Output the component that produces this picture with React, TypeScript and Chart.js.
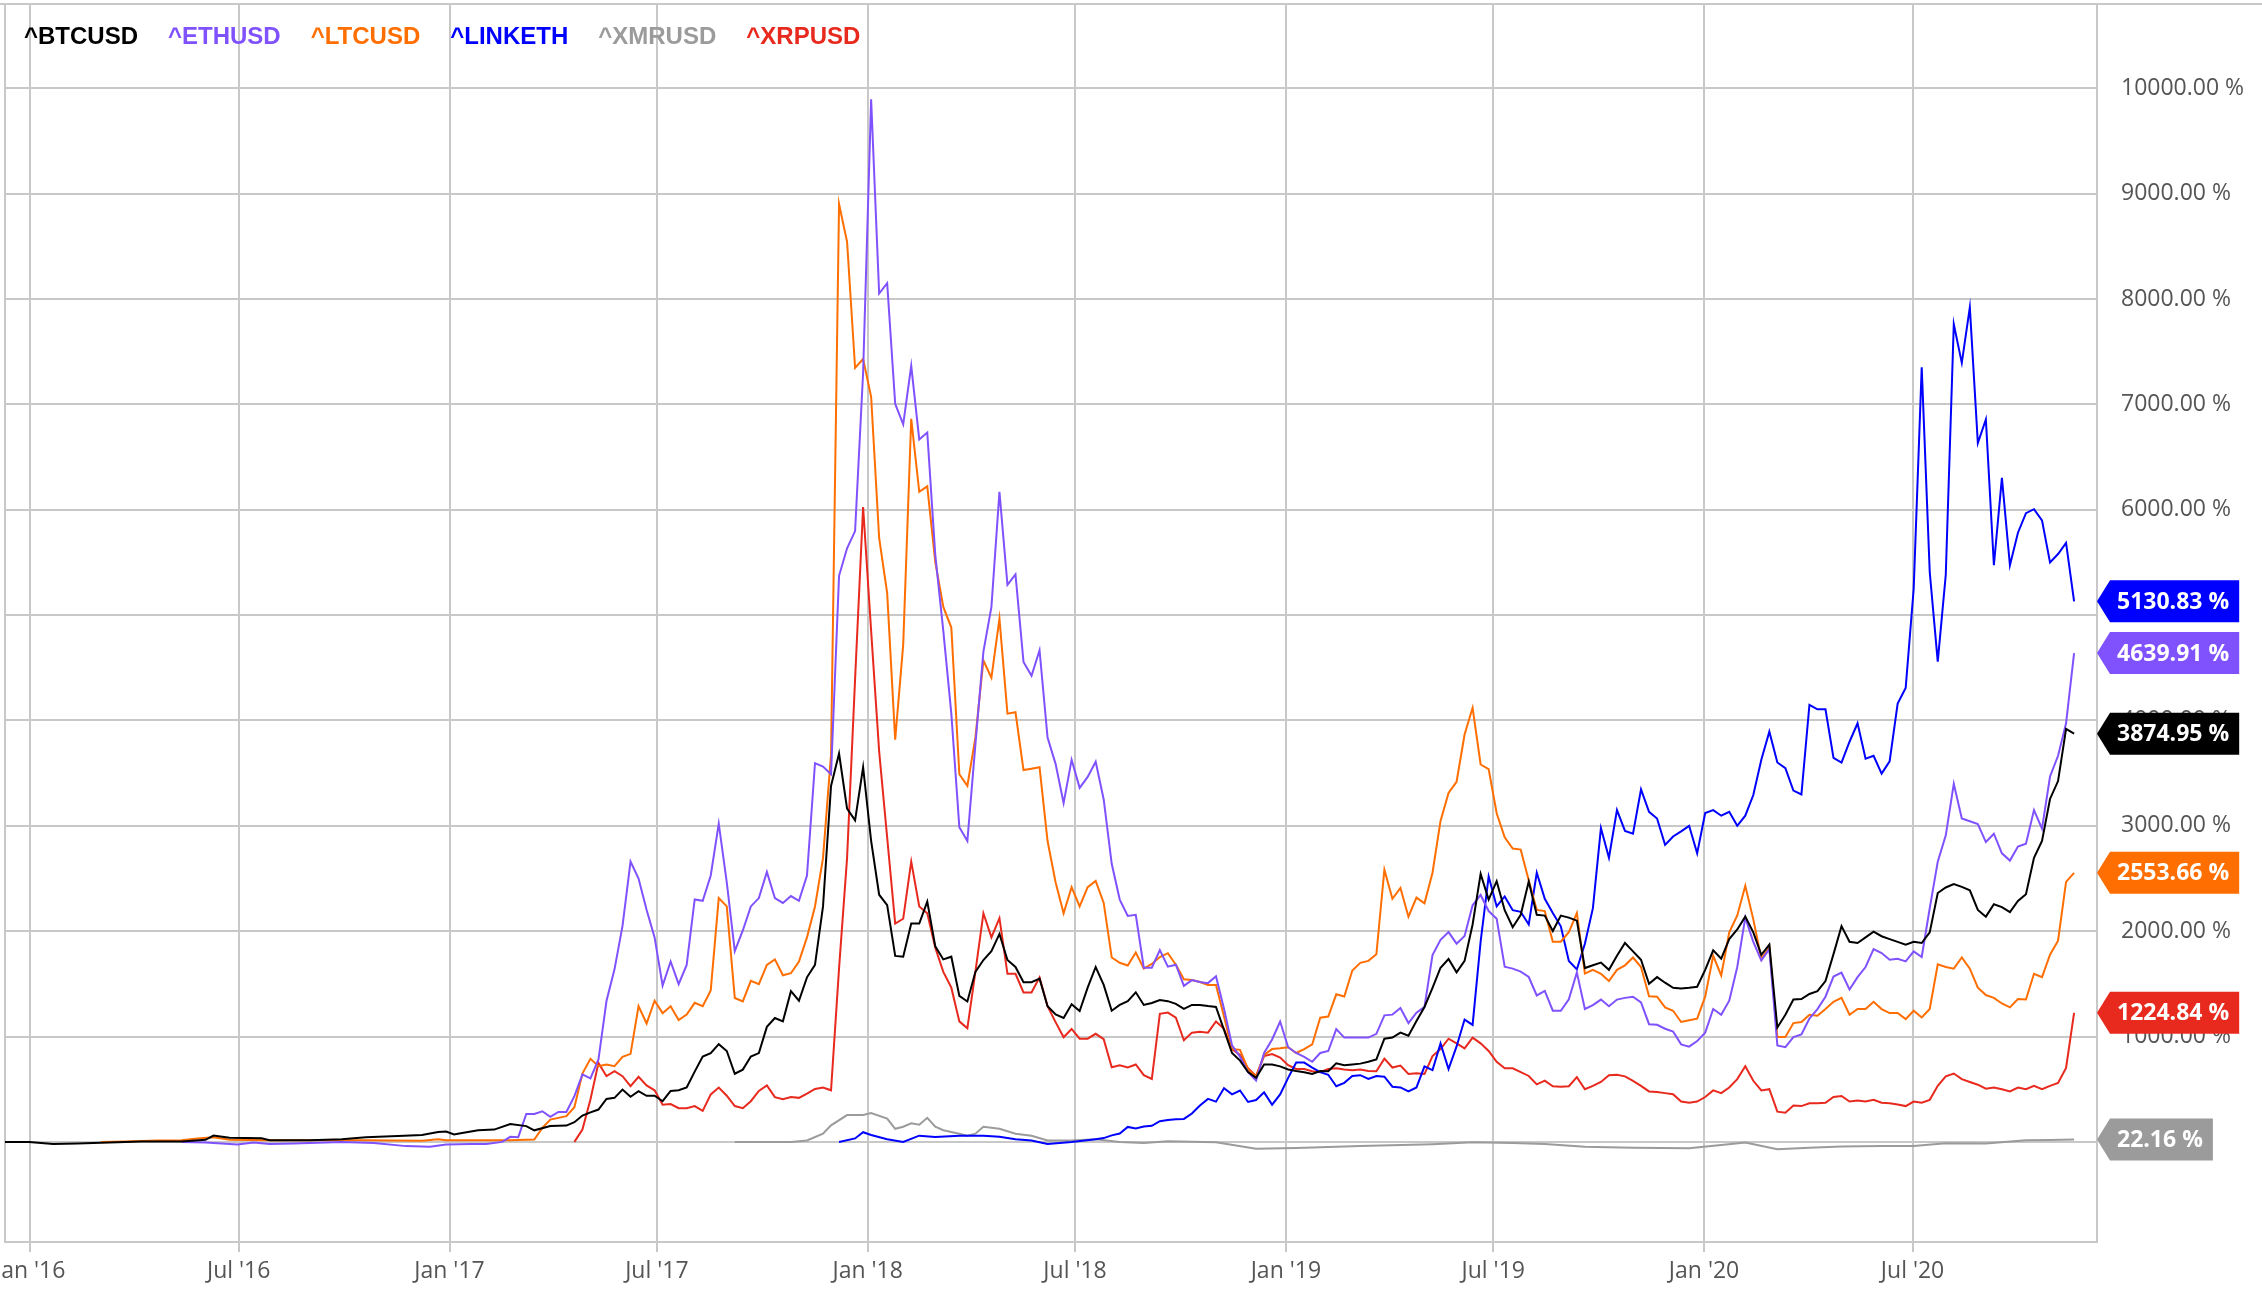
import React, { useEffect, useRef } from "react";
import { Chart, registerables } from "chart.js";

Chart.register(...registerables);

// x axis: days counted from 1 Jan 2016, data is weekly (week 0 = 10 Dec 2015)
const tickDates = [
	"2016-01-01", "2016-07-01", "2017-01-01", "2017-07-01", "2018-01-01",
	"2018-07-01", "2019-01-01", "2019-07-01", "2020-01-01", "2020-07-01",
];
const tickLabels = [
	"Jan '16", "Jul '16", "Jan '17", "Jul '17", "Jan '18",
	"Jul '18", "Jan '19", "Jul '19", "Jan '20", "Jul '20",
];
const yTicks = [0, 1000, 2000, 3000, 4000, 5000, 6000, 7000, 8000, 9000, 10000];

const seriesNames = ["^BTCUSD", "^ETHUSD", "^LTCUSD", "^LINKETH", "^XMRUSD", "^XRPUSD"];

// [week, % change] before the weekly runs start
const btcEarly: [number, number][] = [
	[0, 0], [3, 0], [6, -20], [9, -15], [13, -5], [17, 5], [22, 5], [25, 20], [26, 60],
	[28, 40], [32, 35], [33, 15], [38, 15], [42, 25], [45, 45], [49, 55], [52, 65],
	[54, 95], [55, 98], [56, 70], [57, 85], [59, 110], [61, 117], [63, 170], [65, 150],
	[66, 110], [68, 150], [70, 155], [71, 187], [72, 250], [73, 280], [74, 307],
	[75, 408], [76, 418], [77, 497], [78, 428],
];
// weekly from week 79
const btcWeekly = [
	481, 438, 438, 386, 484, 490, 516, 667, 810, 843,
	928, 863, 647, 686, 810, 843, 1092, 1176, 1144, 1431,
	1340, 1562, 1680, 2235, 3379, 3686, 3163, 3052, 3556, 2856,
	2346, 2248, 1765, 1758, 2072, 2072, 2281, 1856, 1732, 1758,
	1386, 1333, 1614, 1726, 1810, 1974, 1726, 1660, 1516, 1516,
	1549, 1288, 1209, 1176, 1307, 1242, 1464, 1660, 1490, 1245,
	1300, 1336, 1420, 1300, 1318, 1347, 1336, 1310, 1263, 1300,
	1300, 1289, 1281, 1063, 844, 772, 662, 608, 735, 735,
	717, 688, 673, 662, 644, 673, 670, 746, 728, 735,
	743, 761, 783, 979, 990, 1037, 1008, 1147, 1281, 1463,
	1653, 1736, 1609, 1718, 2064, 2544, 2300, 2475, 2199, 2038,
	2155, 2472, 2155, 2148, 2002, 2148, 2129, 2100, 1650, 1676,
	1702, 1633, 1766, 1888, 1808, 1729, 1500, 1564, 1511, 1463,
	1457, 1463, 1473, 1633, 1819, 1739, 1925, 2016, 2138, 1989,
	1776, 1872, 1085, 1207, 1351, 1356, 1404, 1431, 1527, 1782,
	2048, 1899, 1888, 1941, 1995, 1952, 1925, 1899, 1872, 1899,
	1888, 1989, 2362, 2415, 2447, 2420, 2388, 2202, 2138, 2255,
	2229, 2181, 2287, 2351, 2697, 2856, 3255, 3425, 3920, 3874.95,
];

const ethEarly: [number, number][] = [
	[22, 0], [25, -5], [29, -25], [31, -5], [33, -20], [36, -15], [42, 0], [46, -10],
	[50, -40], [53, -47], [55, -25], [58, -20], [60, -20], [62, 0], [63, 48], [64, 45],
	[65, 266], [66, 266], [67, 291], [68, 238], [69, 285], [70, 285], [71, 434],
	[72, 640], [73, 602], [74, 782], [75, 1337], [76, 1638], [77, 2050], [78, 2661],
];
const ethWeekly = [
	2500, 2203, 1941, 1484, 1712, 1497, 1680, 2301, 2288, 2529,
	3020, 2464, 1810, 2007, 2235, 2314, 2562, 2314, 2268, 2333,
	2288, 2529, 3595, 3562, 3490, 5373, 5634, 5797, 7300, 9895,
	8052, 8150, 7006, 6810, 7366, 6667, 6732, 5569, 4850, 4065,
	2987, 2856, 3771, 4654, 5078, 6170, 5288, 5386, 4556, 4425,
	4667, 3837, 3588, 3216, 3627, 3360, 3464, 3608, 3250, 2640,
	2300, 2144, 2155, 1653, 1653, 1820, 1663, 1682, 1481, 1536,
	1518, 1507, 1572, 1263, 917, 808, 662, 582, 844, 972,
	1143, 899, 844, 808, 761, 844, 863, 1070, 990, 990,
	990, 990, 1026, 1201, 1208, 1270, 1128, 1227, 1281, 1773,
	1918, 1991, 1882, 1955, 2246, 2344, 2191, 2118, 1663, 1645,
	1616, 1565, 1390, 1434, 1245, 1245, 1354, 1609, 1262, 1298,
	1351, 1287, 1351, 1367, 1378, 1324, 1117, 1112, 1074, 1048,
	926, 904, 957, 1037, 1261, 1207, 1340, 1660, 2128, 1899,
	1723, 1830, 915, 899, 995, 1021, 1170, 1261, 1378, 1569,
	1606, 1447, 1564, 1660, 1830, 1792, 1729, 1739, 1713, 1808,
	1755, 2218, 2660, 2910, 3399, 3069, 3043, 3016, 2846, 2925,
	2739, 2670, 2803, 2830, 3149, 2973, 3468, 3665, 3973, 4639.91,
];

const ltcEarly: [number, number][] = [
	[12, 0], [15, 5], [19, 13], [22, 15], [24, 32], [26, 44], [28, 20], [33, 15],
	[40, 15], [45, 15], [52, 10], [54, 25], [55, 15], [60, 15], [63, 15], [65, 20],
	[66, 22], [67, 133], [68, 212], [70, 244], [71, 329], [72, 649], [73, 789],
	[74, 719], [75, 735], [76, 719], [77, 808], [78, 836],
];
const ltcWeekly = [
	1289, 1124, 1340, 1222, 1288, 1157, 1209, 1320, 1288, 1438,
	2314, 2235, 1366, 1333, 1529, 1497, 1680, 1732, 1582, 1601,
	1712, 1941, 2235, 2693, 3673, 8902, 8543, 7346, 7431, 7072,
	5732, 5209, 3817, 4719, 6863, 6170, 6222, 5503, 5078, 4882,
	3490, 3379, 3837, 4569, 4405, 4967, 4065, 4078, 3529, 3542,
	3556, 2856, 2464, 2170, 2418, 2235, 2418, 2477, 2268, 1750,
	1700, 1674, 1798, 1645, 1689, 1754, 1791, 1682, 1543, 1536,
	1518, 1489, 1489, 1190, 881, 874, 688, 619, 826, 881,
	888, 899, 844, 881, 925, 1179, 1190, 1401, 1380, 1627,
	1700, 1718, 1780, 2584, 2308, 2410, 2137, 2319, 2264, 2555,
	3047, 3312, 3418, 3866, 4120, 3582, 3538, 3119, 2890, 2785,
	2774, 2482, 2202, 2191, 1900, 1900, 1991, 2173, 1598, 1633,
	1596, 1527, 1633, 1676, 1750, 1660, 1383, 1378, 1277, 1245,
	1138, 1154, 1170, 1378, 1766, 1580, 1989, 2149, 2431, 2112,
	1739, 1846, 995, 995, 1128, 1138, 1207, 1197, 1261, 1330,
	1367, 1207, 1261, 1261, 1330, 1261, 1223, 1223, 1165, 1245,
	1181, 1261, 1686, 1660, 1644, 1750, 1644, 1463, 1394, 1367,
	1314, 1277, 1356, 1351, 1596, 1564, 1776, 1910, 2468, 2553.66,
];

const linkEarly: [number, number][] = [
	[104, 0], [106, 33], [107, 92], [108, 65], [110, 26], [112, 0], [114, 59],
	[116, 46], [119, 59], [122, 59], [124, 50], [126, 26], [128, 13], [130, -20],
	[133, 0], [136, 26],
];
// weekly from week 137
const linkWeekly = [
	36, 62, 80, 142, 127, 146, 153, 197, 207, 215,
	218, 269, 346, 408, 382, 510, 451, 488, 379, 397,
	470, 353, 451, 608, 753, 753, 706, 662, 637, 528,
	561, 626, 633, 597, 626, 619, 524, 517, 480, 517,
	717, 681, 935, 692, 906, 1161, 1110, 1900, 2519, 2235,
	2330, 2199, 2184, 2064, 2555, 2308, 2173, 2046, 1718, 1638,
	1880, 2218, 2979, 2697, 3149, 2952, 2925, 3346, 3133, 3069,
	2819, 2899, 2947, 3000, 2739, 3122, 3149, 3096, 3133, 3000,
	3096, 3292, 3628, 3894, 3601, 3548, 3335, 3298, 4149, 4106,
	4106, 3644, 3601, 3798, 3973, 3638, 3665, 3495, 3612, 4160,
	4308, 5250, 7351, 5409, 4558, 5383, 7760, 7394, 7920, 6633,
	6856, 5473, 6303, 5473, 5782, 5968, 6005, 5899, 5500, 5580,
	5686, 5130.83,
];

const xmrPoints: [number, number][] = [
	[91, 0], [95, 0], [98, 0], [100, 13], [102, 78], [103, 157], [105, 255], [107, 255],
	[108, 275], [110, 222], [111, 124], [112, 144], [113, 176], [114, 163], [115, 229],
	[116, 144], [117, 111], [119, 78], [120, 59], [121, 78], [122, 144], [124, 124],
	[126, 78], [128, 59], [130, 13], [133, 13], [136, 26], [139, 0], [142, -11],
	[145, 7], [151, -4], [156, -65], [161, -58], [169, -40], [178, -22], [183, -4],
	[188, -10], [192, -20], [197, -47], [203, -55], [210, -60], [214, -30], [217, -6],
	[221, -70], [225, -55], [229, -44], [234, -40], [238, -38], [242, -13], [247, -16],
	[252, 16], [255, 18], [258, 22.16],
];

// weekly from week 71
const xrpWeekly = [
	0, 117, 402, 750, 624, 671, 624, 529, 618, 536,
	490, 353, 359, 320, 320, 340, 294, 451, 516, 438,
	340, 320, 386, 484, 536, 425, 405, 425, 418, 458,
	503, 516, 490, 1647, 2693, 4392, 6026, 4850, 3706, 2889,
	2072, 2118, 2660, 2235, 2170, 1843, 1614, 1464, 1144, 1078,
	1614, 2170, 1941, 2124, 1595, 1595, 1418, 1418, 1562, 1288,
	1137, 993, 1072, 980, 980, 1026, 975, 709, 728, 706,
	735, 633, 597, 1216, 1227, 1179, 965, 1037, 1045, 1037,
	1143, 1074, 881, 826, 699, 626, 815, 834, 801, 728,
	692, 692, 670, 662, 692, 699, 688, 681, 688, 673,
	670, 790, 706, 724, 644, 652, 644, 815, 881, 979,
	935, 888, 990, 935, 863, 761, 699, 699, 662, 626,
	546, 582, 528, 524, 528, 615, 500, 532, 569, 633,
	638, 622, 580, 532, 479, 473, 463, 452, 383, 372,
	383, 426, 489, 463, 516, 596, 718, 580, 489, 500,
	287, 277, 346, 340, 367, 367, 372, 426, 436, 383,
	394, 383, 399, 372, 367, 356, 340, 383, 372, 399,
	532, 622, 649, 596, 569, 543, 505, 516, 500, 479,
	516, 500, 532, 500, 532, 559, 702, 1224.84,
];

const seriesColors = ["#000000", "#8052fe", "#ff6e00", "#0000ff", "#9b9b9b", "#e8291e"];
const gridColor = "#c8c8c8";
const axisFont = '"Open Sans", "Noto Sans", sans-serif';

const weekToDay = (w: number) => w * 7 - 22;
const dayOf = (iso: string) =>
	(Date.parse(iso + "T00:00:00Z") - Date.parse("2016-01-01T00:00:00Z")) / 86400000;

function toPoints(early: [number, number][], firstWeek: number, weekly: number[]) {
	return [
		...early.map(([w, v]) => ({ x: weekToDay(w), y: v })),
		...weekly.map((v, i) => ({ x: weekToDay(firstWeek + i), y: v })),
	];
}

const frame = {
	id: "frame",
	beforeDatasetsDraw(chart: any) {
		const { ctx, chartArea: a, width } = chart;
		ctx.save();
		ctx.strokeStyle = gridColor;
		ctx.lineWidth = 2;
		ctx.beginPath();
		ctx.moveTo(0, a.top);
		ctx.lineTo(width, a.top);
		ctx.moveTo(a.left, a.top);
		ctx.lineTo(a.left, a.bottom);
		ctx.lineTo(a.right, a.bottom);
		ctx.lineTo(a.right, a.top);
		ctx.stroke();
		ctx.restore();
	},
};

const overlay = {
	id: "overlay",
	afterDraw(chart: any) {
		const { ctx, chartArea: a } = chart;
		const y = chart.scales.y;
		ctx.save();

		// legend drawn over the plot, text only
		ctx.font = 'bold 24px "Liberation Sans", Arial, sans-serif';
		ctx.textBaseline = "middle";
		ctx.textAlign = "left";
		let x = 24;
		chart.data.datasets.forEach((ds: any) => {
			ctx.fillStyle = ds.borderColor;
			ctx.fillText(ds.label, x, 37);
			x += ctx.measureText(ds.label).width + 30;
		});

		// last value tags on the right axis
		ctx.font = 'bold 23px "Open Sans", "Noto Sans", sans-serif';
		chart.data.datasets.forEach((ds: any) => {
			const last = ds.data[ds.data.length - 1].y;
			const py = y.getPixelForValue(last);
			const text = last.toFixed(2) + " %";
			const tw = ctx.measureText(text).width;
			const x0 = a.right + 13;
			const x1 = x0 + 7 + tw + 10;
			ctx.fillStyle = ds.borderColor;
			ctx.beginPath();
			ctx.moveTo(a.right, py);
			ctx.lineTo(x0, py - 21);
			ctx.lineTo(x1, py - 21);
			ctx.lineTo(x1, py + 21);
			ctx.lineTo(x0, py + 21);
			ctx.closePath();
			ctx.fill();
			ctx.fillStyle = "#ffffff";
			ctx.fillText(text, x0 + 7, py + 1);
		});
		ctx.restore();
	},
};

const CryptoReturnsChart: React.FC = () => {
	const chartRef = useRef<HTMLCanvasElement | null>(null);
	const chartInstance = useRef<Chart | null>(null);

	useEffect(() => {
		if (!chartRef.current) return;

		const series = [
			toPoints(btcEarly, 79, btcWeekly),
			toPoints(ethEarly, 79, ethWeekly),
			toPoints(ltcEarly, 79, ltcWeekly),
			toPoints(linkEarly, 137, linkWeekly),
			toPoints(xmrPoints, 0, []),
			toPoints([], 71, xrpWeekly),
		];
		const tickDays = tickDates.map(dayOf);

		chartInstance.current = new Chart(chartRef.current, {
			type: "line",
			data: {
				datasets: series.map((data, i) => ({
					label: seriesNames[i],
					data,
					borderColor: seriesColors[i],
					backgroundColor: seriesColors[i],
					borderWidth: 2,
					pointRadius: 0,
					tension: 0,
					fill: false,
				})),
			},
			options: {
				responsive: false,
				animation: false,
				layout: { padding: { top: 4, left: 5, right: 0, bottom: 0 } },
				plugins: {
					legend: { display: false },
					tooltip: { enabled: false },
				},
				scales: {
					x: {
						type: "linear",
						min: -22,
						max: 1804,
						afterBuildTicks: (scale: any) => {
							scale.ticks = tickDays.map((value) => ({ value }));
						},
						afterFit: (scale: any) => {
							scale.height = 54;
							scale.paddingLeft = 0;
							scale.paddingRight = 0;
						},
						grid: { color: gridColor, lineWidth: 2, tickLength: 10, drawTicks: true },
						border: { display: false },
						ticks: {
							autoSkip: false,
							maxRotation: 0,
							minRotation: 0,
							padding: 6,
							color: "#555555",
							font: { family: axisFont, size: 23 },
							callback: (_v: any, i: number) => tickLabels[i],
						},
					},
					y: {
						type: "linear",
						position: "right",
						min: -950,
						max: 10800,
						afterBuildTicks: (scale: any) => {
							scale.ticks = yTicks.map((value) => ({ value }));
						},
						afterFit: (scale: any) => {
							scale.width = 165;
							scale.paddingTop = 0;
							scale.paddingBottom = 0;
						},
						grid: { color: gridColor, lineWidth: 2, drawTicks: false },
						border: { display: false },
						ticks: {
							padding: 24,
							color: "#555555",
							font: { family: axisFont, size: 23 },
							callback: (v: any) => Number(v).toFixed(2) + " %",
						},
					},
				},
			},
			plugins: [frame, overlay],
		});

		return () => {
			if (chartInstance.current) {
				chartInstance.current.destroy();
				chartInstance.current = null;
			}
		};
	}, []);

	return (
		<div
			style={{
				position: "fixed",
				left: 0,
				top: 0,
				width: 2262,
				height: 1296,
				overflow: "hidden",
				background: "#ffffff",
			}}
		>
			<canvas ref={chartRef} width={2262} height={1296} style={{ display: "block" }} />
		</div>
	);
};

export default function App() {
	return <CryptoReturnsChart />;
}
